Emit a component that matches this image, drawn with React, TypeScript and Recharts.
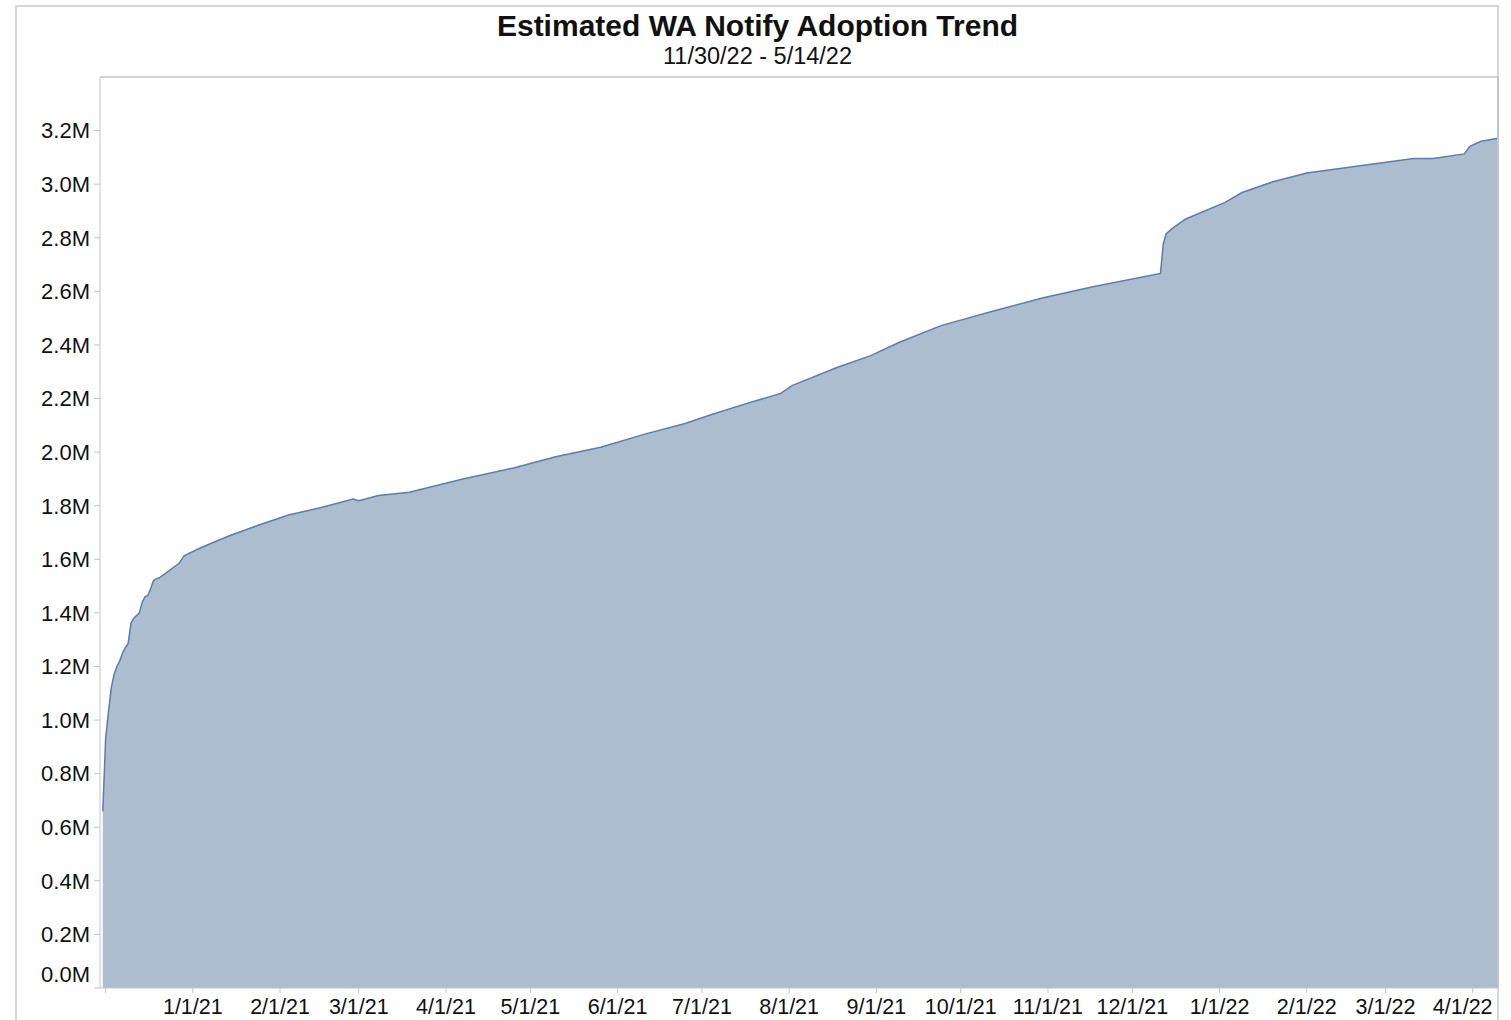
import { Area, AreaChart, ReferenceLine, XAxis, YAxis } from 'recharts'

// daily cumulative adopters (millions)
const dates = [
  '2020-11-30', '2020-12-01', '2020-12-02', '2020-12-03', '2020-12-04', '2020-12-05',
  '2020-12-06', '2020-12-07', '2020-12-08', '2020-12-09', '2020-12-10', '2020-12-11',
  '2020-12-12', '2020-12-13', '2020-12-14', '2020-12-15', '2020-12-16', '2020-12-17',
  '2020-12-18', '2020-12-19', '2020-12-20', '2020-12-27', '2020-12-29', '2021-01-04',
  '2021-01-14', '2021-01-24', '2021-02-04', '2021-02-16', '2021-02-27', '2021-03-01',
  '2021-03-08', '2021-03-19', '2021-04-07', '2021-04-25', '2021-05-10', '2021-05-26',
  '2021-06-11', '2021-06-25', '2021-07-05', '2021-07-17', '2021-07-29', '2021-08-02',
  '2021-08-18', '2021-08-30', '2021-09-09', '2021-09-24', '2021-10-12', '2021-10-30',
  '2021-11-17', '2021-12-11', '2021-12-12', '2021-12-13', '2021-12-15', '2021-12-20',
  '2022-01-03', '2022-01-09', '2022-01-20', '2022-02-01', '2022-02-20', '2022-03-11',
  '2022-03-18', '2022-03-29', '2022-03-31', '2022-04-04', '2022-04-10',
]

const adopters = [
  0.66, 0.93, 1.03, 1.12, 1.17, 1.2,
  1.22, 1.25, 1.27, 1.285, 1.36, 1.38,
  1.39, 1.4, 1.44, 1.46, 1.465, 1.49,
  1.52, 1.528, 1.53, 1.584, 1.614, 1.644,
  1.688, 1.726, 1.765, 1.794, 1.825, 1.819,
  1.838, 1.85, 1.9, 1.941, 1.983, 2.018,
  2.068, 2.107, 2.142, 2.182, 2.219, 2.248,
  2.316, 2.36, 2.409, 2.472, 2.525, 2.575,
  2.617, 2.667, 2.777, 2.814, 2.833, 2.87,
  2.932, 2.969, 3.009, 3.042, 3.069, 3.096,
  3.096, 3.113, 3.141, 3.16, 3.171,
]

const xTicks = [
  '2020-12-01', '2021-01-01', '2021-02-01', '2021-03-01', '2021-04-01', '2021-05-01',
  '2021-06-01', '2021-07-01', '2021-08-01', '2021-09-01', '2021-10-01', '2021-11-01',
  '2021-12-01', '2022-01-01', '2022-02-01', '2022-03-01', '2022-04-01',
]

const yTicks = [0, 0.2, 0.4, 0.6, 0.8, 1.0, 1.2, 1.4, 1.6, 1.8, 2.0, 2.2, 2.4, 2.6, 2.8, 3.0, 3.2]

const xStart = '2020-11-29'
const xEnd = '2022-04-10'

const FONT = '"Liberation Sans", Arial, sans-serif'
const GRID = '#c4c4c4'

function toTime(s: string): number {
  const [y, m, d] = s.split('-').map(Number)
  return Date.UTC(y, m - 1, d)
}

function fmtDate(t: number): string {
  if (t === toTime(xTicks[0])) return '' // first tick is unlabelled
  const d = new Date(t)
  return `${d.getUTCMonth() + 1}/${d.getUTCDate()}/${String(d.getUTCFullYear()).slice(2)}`
}

const data = dates.map((d, i) => ({ t: toTime(d), v: adopters[i] * 1e6 }))

function YTick(props: any) {
  const { x, y, payload } = props
  // bottom label sits above its tick, like the original
  const shift = payload.value === 0 ? -14 : 0
  return (
    <text x={x} y={y + shift} dy="0.355em" textAnchor="end" fontSize={22} fontFamily={FONT} fill="#111">
      {(payload.value / 1e6).toFixed(1)}M
    </text>
  )
}

function XTick(props: any) {
  const { x, y, payload } = props
  // last label is nudged left so it stays inside the frame
  const last = payload.value === toTime(xTicks[xTicks.length - 1])
  return (
    <text x={x} y={y} dx={last ? -10 : 0} dy="0.71em" textAnchor="middle" fontSize={21.5} fontFamily={FONT} fill="#111">
      {fmtDate(payload.value)}
    </text>
  )
}

export default function App() {
  return (
    <div style={{ position: 'absolute', left: 0, top: 0, width: 1511, height: 1020, background: '#fff', fontFamily: FONT }}>
      <div
        style={{
          position: 'absolute',
          left: 15,
          top: 5,
          width: 1484,
          height: 1015,
          borderLeft: `2px solid #d6d6d6`,
          borderTop: `2px solid #d6d6d6`,
          borderRight: `2px solid #d6d6d6`,
          boxSizing: 'border-box',
        }}
      />
      <div
        style={{
          position: 'absolute',
          left: 0,
          width: 1515,
          top: 11,
          textAlign: 'center',
          fontSize: 30,
          lineHeight: '30px',
          fontWeight: 'bold',
          color: '#111',
        }}
      >
        Estimated WA Notify Adoption Trend
      </div>
      <div
        style={{
          position: 'absolute',
          left: 0,
          width: 1515,
          top: 45,
          textAlign: 'center',
          fontSize: 23.5,
          lineHeight: '23px',
          color: '#111',
        }}
      >
        11/30/22 - 5/14/22
      </div>
      <div style={{ position: 'absolute', left: 0, top: 0 }}>
        <AreaChart width={1511} height={1020} data={data} margin={{ top: 77, right: 13, bottom: 0, left: 0 }}>
          <XAxis
            dataKey="t"
            type="number"
            scale="linear"
            domain={[toTime(xStart), toTime(xEnd)]}
            ticks={xTicks.map(toTime)}
            interval={0}
            height={32}
            tickSize={5}
            tickMargin={6}
            stroke={GRID}
            tick={<XTick />}
          />
          <YAxis
            type="number"
            domain={[0, 3.4e6]}
            ticks={yTicks.map((v) => v * 1e6)}
            width={100}
            tickSize={6}
            tickMargin={4}
            stroke={GRID}
            tick={<YTick />}
            interval={0}
          />
          <Area
            type="linear"
            dataKey="v"
            stroke="#5b7dab"
            strokeWidth={1.5}
            fill="#adbdd0"
            fillOpacity={1}
            isAnimationActive={false}
            dot={false}
            activeDot={false}
          />
          <ReferenceLine y={3.4e6} stroke={GRID} strokeWidth={1.5} />
          <ReferenceLine x={toTime(xEnd)} stroke={GRID} strokeWidth={2} />
        </AreaChart>
      </div>
    </div>
  )
}
